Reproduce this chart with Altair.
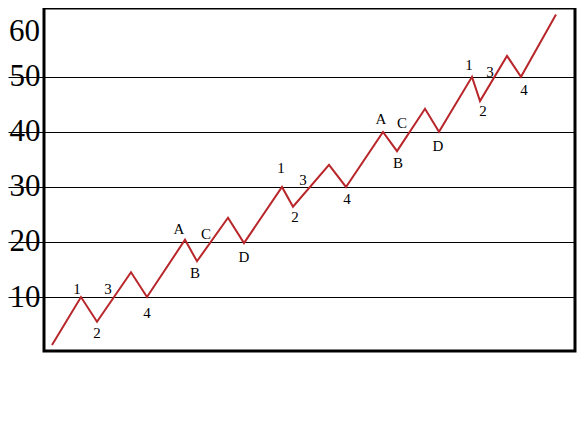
import altair as alt
import pandas as pd

# Zig-zag wave line (x in plot units, y value)
wave_x = [8, 37, 53, 87, 103, 141, 153, 184, 200, 238, 249, 285, 302,
          339, 353, 381, 395, 428, 436, 463, 477, 512]
wave_y = [1.3, 10, 5.5, 14.5, 10, 20.4, 16.5, 24.4, 19.8, 30, 26.4, 34, 30,
          40, 36.5, 44.2, 40, 50, 45.6, 53.8, 50, 61.3]

# Wave annotations
ann_text = ["1", "2", "3", "4", "A", "B", "C", "D",
            "1", "2", "3", "4", "A", "B", "C", "D",
            "1", "2", "3", "4"]
ann_x = [33, 53, 64, 103, 135, 151, 162, 200,
         237, 251, 259, 303, 337, 354, 358, 394,
         425, 439, 446, 480]
ann_y = [11.45, 3.45, 11.45, 7.1, 22.4, 14.4, 21.5, 17.3,
         33.5, 24.5, 31.3, 27.8, 42.4, 34.4, 41.6, 37.5,
         52.2, 43.8, 50.9, 47.6]

# Y tick values and the extra top label
y_ticks = [10, 20, 30, 40, 50]
top_label = ["60"]
top_label_y = [58.2]

line_df = pd.DataFrame({"x": wave_x, "y": wave_y, "order": list(range(len(wave_x)))})
ann_df = pd.DataFrame({"x": ann_x, "y": ann_y, "t": ann_text})
top_df = pd.DataFrame({"y": top_label_y, "t": top_label})

xs = alt.Scale(domain=[0, 531], nice=False, zero=False)
ys = alt.Scale(domain=[0.2, 62.5], nice=False, zero=False)

line = alt.Chart(line_df).mark_line(color="#b8262a", strokeWidth=2).encode(
    x=alt.X("x:Q", scale=xs, axis=None),
    y=alt.Y("y:Q", scale=ys, axis=alt.Axis(
        values=y_ticks, grid=True, gridColor="black", gridWidth=1, gridOpacity=1,
        domain=False, ticks=True, tickSize=36, tickColor="black", tickWidth=1,
        labelPadding=-32, labelFont="Liberation Serif", labelFontSize=31,
        labelColor="black", title=None)),
    order="order:Q",
)

ann = alt.Chart(ann_df).mark_text(
    font="Liberation Serif", fontSize=15, color="black", align="center", baseline="middle"
).encode(
    x=alt.X("x:Q", scale=xs),
    y=alt.Y("y:Q", scale=ys),
    text="t:N",
)

top = alt.Chart(top_df).mark_text(
    font="Liberation Serif", fontSize=31, color="black", align="right", baseline="middle"
).encode(
    x=alt.value(-4),
    y=alt.Y("y:Q", scale=ys),
    text="t:N",
)

chart = alt.layer(line, ann, top).properties(
    width=531, height=343,
    background="white",
    autosize=alt.AutoSizeParams(type="none"),
    padding={"left": 36, "top": 0, "right": 2, "bottom": 5},
).configure_view(stroke="black", strokeWidth=3)

chart.save("out.html", embed_options={"renderer": "svg", "actions": False})
